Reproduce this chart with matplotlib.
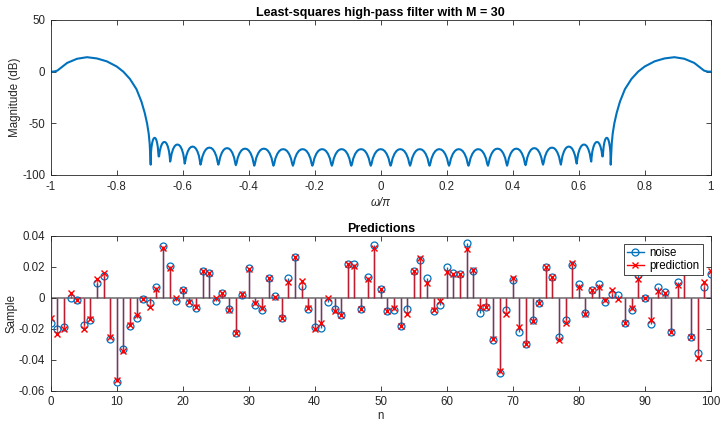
import numpy as np
import matplotlib
matplotlib.use("Agg")
import matplotlib.pyplot as plt
from matplotlib.lines import Line2D
from matplotlib.legend_handler import HandlerLine2D

plt.rcParams['font.family'] = ['Liberation Sans', 'DejaVu Sans']
plt.rcParams['font.size'] = 8.3
plt.rcParams['axes.unicode_minus'] = False

BLUE = '#0072BD'
DARK = '#262626'

# ---- magnitude response, right half (mirrored for left) ----
# stopband nulls (w/pi) and their depth in dB
null_w = [0.030, 0.089, 0.148, 0.207, 0.266, 0.325, 0.383, 0.439, 0.492, 0.546, 0.594, 0.638, 0.673, 0.697]
null_db = [-91, -91, -91, -91, -91, -91, -91, -90.5, -90, -90, -89, -87, -82, -90]
# lobe peak levels: centre lobe, then lobes between consecutive nulls
center_peak = -75.0
lobe_peak = [-75, -75, -75, -75, -75, -74.5, -74.5, -74, -73.5, -72.5, -70.5, -68, -64]
# shape of one lobe: fraction across the lobe and drop below the peak (dB)
lobe_frac = [0.04, 0.1, 0.2, 0.3, 0.4, 0.5, 0.6, 0.7, 0.8, 0.9, 0.96]
lobe_drop = [-14, -9, -4.5, -1.8, -0.4, 0, -0.4, -1.8, -4.5, -9, -14]
# passband from the last null out to w = 1
pass_w = [0.700, 0.703, 0.708, 0.715, 0.725, 0.74, 0.76, 0.78, 0.80, 0.83, 0.86, 0.89, 0.92, 0.95, 0.97, 0.98, 0.99, 1.0]
pass_db = [-70, -60, -50, -40, -29, -17, -7, 0, 5, 10, 12.8, 14, 12.5, 8.5, 3.5, 1, 0.1, 0]

# ---- predictions ----
n = np.arange(101)
noise = [-0.0161, -0.0204, -0.0191, 0.0000, -0.0015, -0.0176, -0.0146, 0.0097, 0.0142, -0.0269,
         -0.0542, -0.0333, -0.0181, -0.0133, -0.0011, -0.0037, 0.0067, 0.0335, 0.0204, -0.0020,
         0.0047, -0.0032, -0.0069, 0.0174, 0.0161, -0.0024, 0.0028, -0.0071, -0.0230, 0.0017,
         0.0194, -0.0045, -0.0082, 0.0125, 0.0011, -0.0129, 0.0125, 0.0265, 0.0077, -0.0071,
         -0.0187, -0.0198, -0.0030, -0.0075, -0.0114, 0.0215, 0.0219, -0.0071, 0.0135, 0.0340,
         0.0054, -0.0088, -0.0080, -0.0181, -0.0075, 0.0170, 0.0243, 0.0125, -0.0084, -0.0045,
         0.0200, 0.0157, 0.0150, 0.0351, 0.0172, -0.0101, -0.0058, -0.0273, -0.0488, -0.0080,
         0.0114, -0.0219, -0.0297, -0.0144, -0.0037, 0.0198, 0.0131, -0.0252, -0.0144, 0.0211,
         0.0088, -0.0097, 0.0049, 0.0090, -0.0026, 0.0022, 0.0017, -0.0166, -0.0080, 0.0146,
         -0.0004, -0.0172, 0.0071, 0.0039, -0.0219, 0.0103, 0.0210, -0.0252, -0.0359, 0.0071,
         0.0150]
prediction = [-0.0133, -0.0234, -0.0204, 0.0028, -0.0015, -0.0202, -0.0140, 0.0118, 0.0157, -0.0252,
              -0.0531, -0.0342, -0.0176, -0.0112, -0.0010, -0.0062, 0.0056, 0.0318, 0.0189, -0.0004,
              0.0052, -0.0026, -0.0062, 0.0174, 0.0157, -0.0004, 0.0028, -0.0080, -0.0230, 0.0021,
              0.0183, -0.0037, -0.0065, 0.0125, 0.0006, -0.0129, 0.0103, 0.0260, 0.0108, -0.0069,
              -0.0200, -0.0166, -0.0004, -0.0084, -0.0112, 0.0215, 0.0204, -0.0071, 0.0118, 0.0323,
              0.0054, -0.0088, -0.0067, -0.0181, -0.0108, 0.0170, 0.0254, 0.0097, -0.0080, -0.0019,
              0.0163, 0.0150, 0.0150, 0.0312, 0.0176, -0.0058, -0.0062, -0.0269, -0.0471, -0.0108,
              0.0125, -0.0191, -0.0301, -0.0148, -0.0032, 0.0196, 0.0135, -0.0273, -0.0161, 0.0221,
              0.0071, -0.0105, 0.0049, 0.0067, -0.0015, 0.0049, -0.0009, -0.0166, -0.0069, 0.0118,
              -0.0004, -0.0144, 0.0043, 0.0028, -0.0219, 0.0082, 0.0200, -0.0256, -0.0387, 0.0099,
              0.0174]


# assemble the full response curve from the read values
nulls = [-w for w in null_w[::-1]] + null_w
depths = null_db[::-1] + null_db
peaks = lobe_peak[::-1] + [center_peak] + lobe_peak
w_half, db_half = [], []
for i in range(len(nulls) - 1):
    a, b = nulls[i], nulls[i + 1]
    w_half.append(a)
    db_half.append(depths[i])
    for f, d in zip(lobe_frac, lobe_drop):
        w_half.append(a + f * (b - a))
        db_half.append(max(peaks[i] + d, min(depths[i], depths[i + 1])))
w_half.append(nulls[-1])
db_half.append(depths[-1])
w = [-x for x in pass_w[::-1]] + w_half + pass_w
mag = pass_db[::-1] + db_half + pass_db


class EndMarker(HandlerLine2D):
    def get_xdata(self, legend, xdescent, ydescent, width, height, fontsize):
        xdata = np.array([-xdescent, -xdescent + width])
        return xdata, xdata[-1:]


def style(ax):
    for s in ax.spines.values():
        s.set_color(DARK)
        s.set_linewidth(0.6)
    ax.tick_params(direction='in', length=3.5, width=0.6, colors=DARK,
                   top=True, right=True, labelsize=8.3, pad=4)


W, H = 721, 422
fig = plt.figure(figsize=(W / 100, H / 100), dpi=100)
ax1 = fig.add_axes([50.7 / W, 1 - 175 / H, 660 / W, 155 / H])
ax2 = fig.add_axes([50.7 / W, 1 - 390.7 / H, 660 / W, 155 / H])

ax1.plot(w, mag, color=BLUE, lw=1.5)
ax1.set_xlim(-1, 1)
ax1.set_ylim(-100, 50)
ax1.set_xticks(np.arange(-1, 1.01, 0.2))
ax1.set_xticklabels(['-1', '-0.8', '-0.6', '-0.4', '-0.2', '0', '0.2', '0.4', '0.6', '0.8', '1'])
ax1.set_yticks([-100, -50, 0, 50])
ax1.set_yticklabels(['-100', '-50', '0', '50'])
ax1.set_xlabel('ω/π', color=DARK, labelpad=3, fontstyle='italic')
ax1.set_ylabel('Magnitude (dB)', color=DARK, labelpad=1)
ax1.set_title('Least-squares high-pass filter with M = 30', fontweight='bold', fontsize=9, pad=3)
style(ax1)

ax2.axhline(0, color='#808080', lw=1.3, zorder=1)
ax2.vlines(n, 0, noise, color=BLUE, lw=1.0, zorder=2)
ax2.plot(n, noise, 'o', color=BLUE, mfc='none', ms=5, mew=0.9, zorder=3)
ax2.vlines(n, 0, prediction, color='red', lw=1.0, alpha=0.75, zorder=4)
ax2.plot(n, prediction, 'x', color='red', ms=4, mew=1.0, zorder=5)
ax2.set_xlim(0, 100)
ax2.set_ylim(-0.06, 0.04)
ax2.set_xticks(np.arange(0, 101, 10))
ax2.set_yticks([-0.06, -0.04, -0.02, 0, 0.02, 0.04])
ax2.set_yticklabels(['-0.06', '-0.04', '-0.02', '0', '0.02', '0.04'])
ax2.set_xlabel('n', color=DARK, labelpad=1)
ax2.set_ylabel('Sample', color=DARK, labelpad=1)
ax2.set_title('Predictions', fontweight='bold', fontsize=9, pad=3)
style(ax2)

h_noise = Line2D([], [], color=BLUE, lw=1.0, marker='o', mfc='none', ms=5, mew=0.9)
h_pred = Line2D([], [], color='red', lw=1.0, marker='x', ms=4, mew=1.0)
leg = ax2.legend([h_noise, h_pred], ['noise', 'prediction'], loc='upper right',
                 handler_map={Line2D: EndMarker()}, fancybox=False, framealpha=1,
                 edgecolor=DARK, borderaxespad=0.7, handlelength=1.5, handletextpad=0.5,
                 borderpad=0.25, labelspacing=0.15, fontsize=8.3)
leg.get_frame().set_linewidth(0.6)
leg.set_zorder(10)

fig.savefig('out.png', dpi=100, facecolor='white')
